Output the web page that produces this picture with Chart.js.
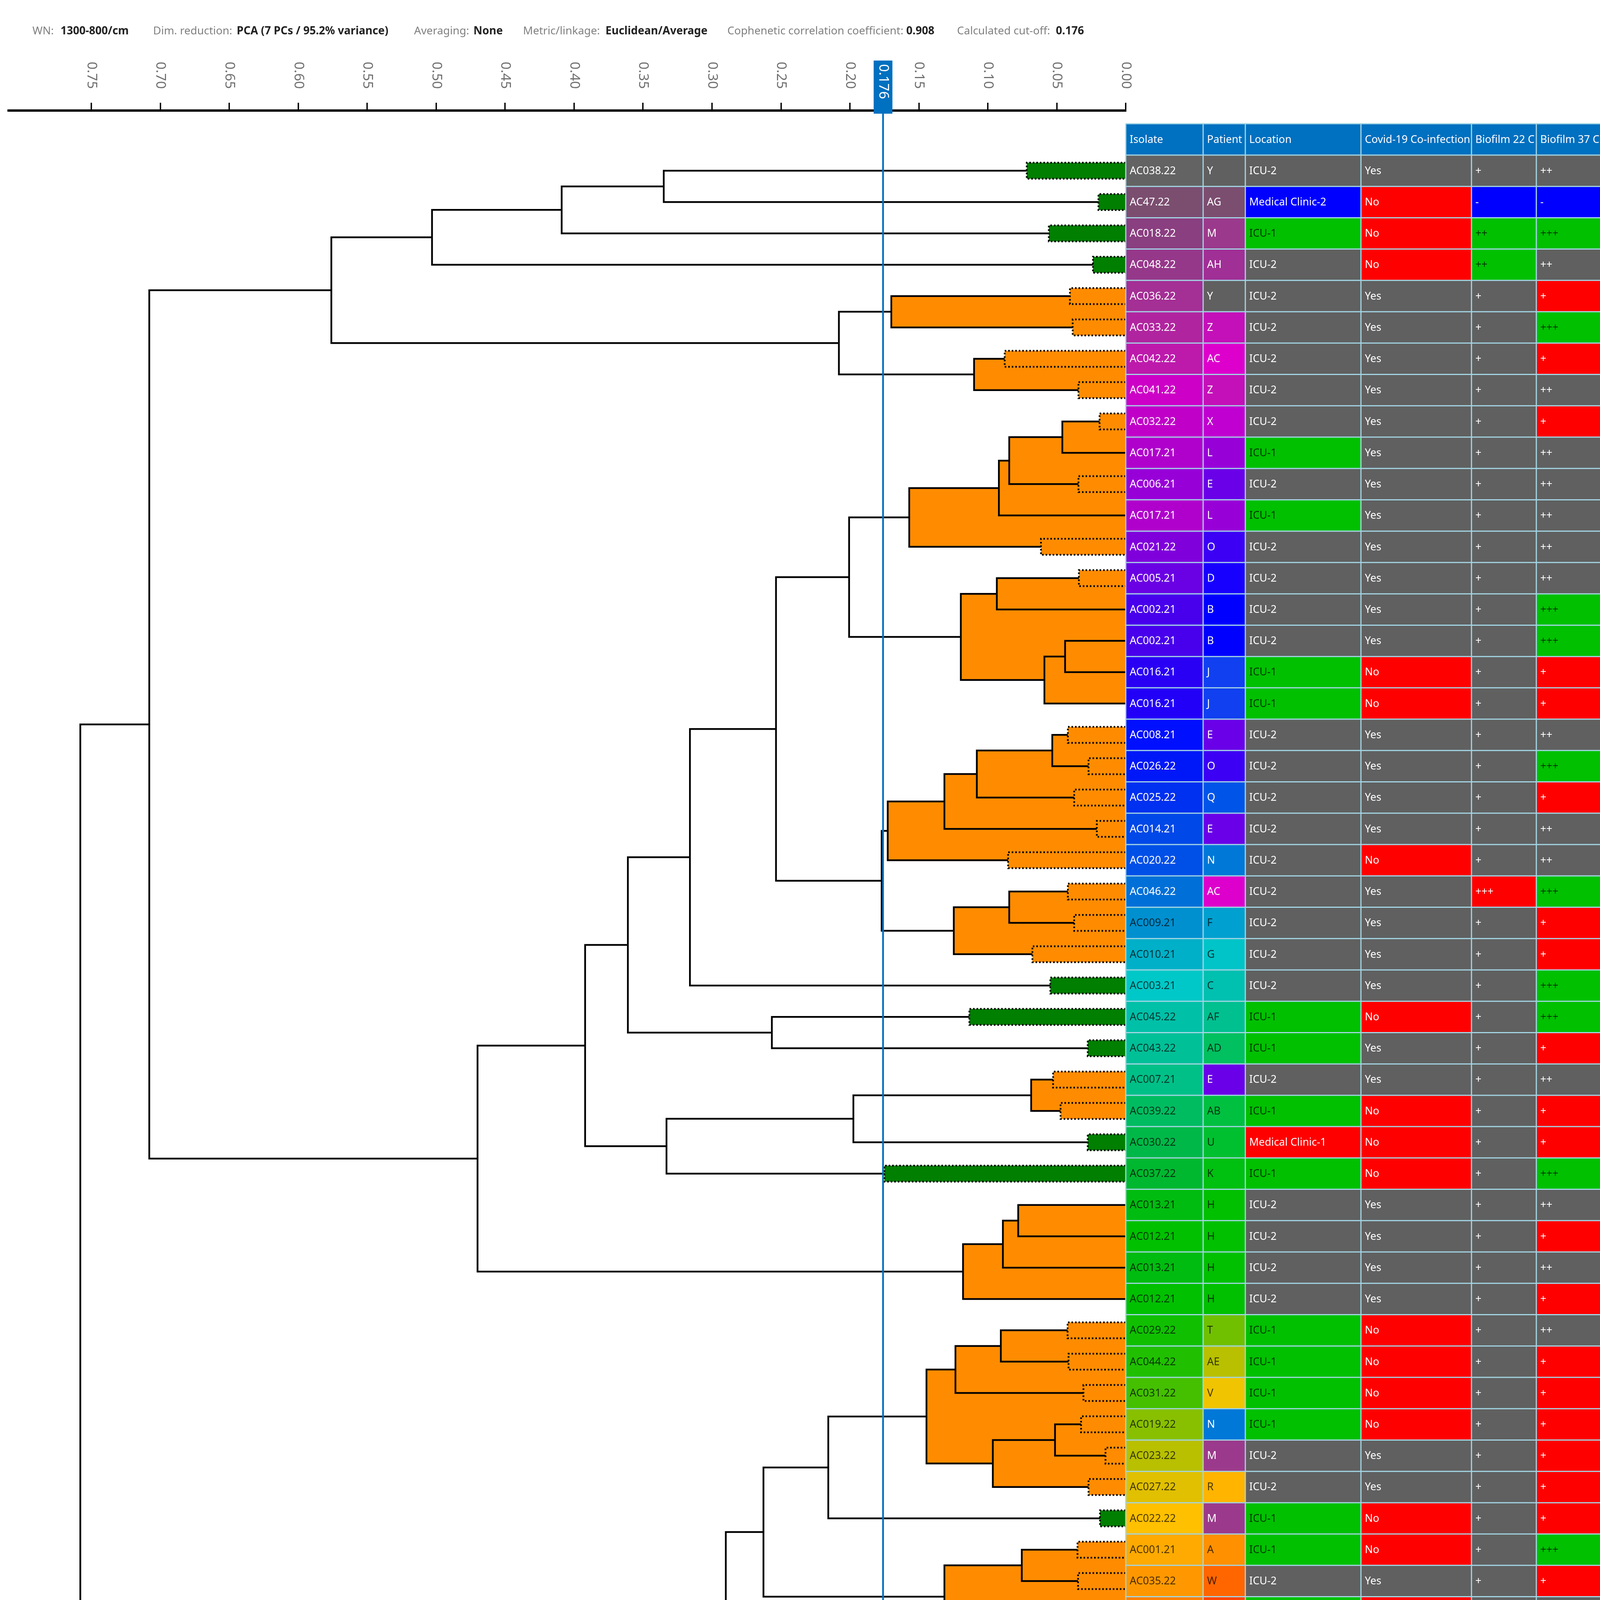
<!DOCTYPE html>
<html>
<head>
<meta charset="utf-8">
<script src="https://cdn.jsdelivr.net/npm/chart.js@4.4.1/dist/chart.umd.min.js"></script>
<style>
  html, body { margin: 0; padding: 0; background: #fff; }
  #wrap { width: 4128px; height: 4634px; }
</style>
</head>
<body>
<div id="wrap"><canvas id="chart" width="4128" height="4634"></canvas></div>
<script>
// ---- data ----
const isolates = ['AC038.22','AC47.22','AC018.22','AC048.22','AC036.22','AC033.22','AC042.22','AC041.22','AC032.22','AC017.21',
  'AC006.21','AC017.21','AC021.22','AC005.21','AC002.21','AC002.21','AC016.21','AC016.21','AC008.21','AC026.22',
  'AC025.22','AC014.21','AC020.22','AC046.22','AC009.21','AC010.21','AC003.21','AC045.22','AC043.22','AC007.21',
  'AC039.22','AC030.22','AC037.22','AC013.21','AC012.21','AC013.21','AC012.21','AC029.22','AC044.22','AC031.22',
  'AC019.22','AC023.22','AC027.22','AC022.22','AC001.21','AC035.22','AC034.22','AC028.22','AC040.22','AC004.21',
  'AC024.22','AC015.21'];
const patients = ['Y','AG','M','AH','Y','Z','AC','Z','X','L','E','L','O','D','B','B','J','J','E','O','Q','E','N','AC','F','G',
  'C','AF','AD','E','AB','U','K','H','H','H','H','T','AE','V','N','M','R','M','A','W','S','S','S','A','P','I'];
const locations = ['ICU-2','Medical Clinic-2','ICU-1','ICU-2','ICU-2','ICU-2','ICU-2','ICU-2','ICU-2','ICU-1',
  'ICU-2','ICU-1','ICU-2','ICU-2','ICU-2','ICU-2','ICU-1','ICU-1','ICU-2','ICU-2',
  'ICU-2','ICU-2','ICU-2','ICU-2','ICU-2','ICU-2','ICU-2','ICU-1','ICU-1','ICU-2',
  'ICU-1','Medical Clinic-1','ICU-1','ICU-2','ICU-2','ICU-2','ICU-2','ICU-1','ICU-1','ICU-1',
  'ICU-1','ICU-2','ICU-2','ICU-1','ICU-1','ICU-2','ICU-1','ICU-1','ICU-1','ICU-1','ICU-2','ICU-2'];
const covid = ['Yes','No','No','No','Yes','Yes','Yes','Yes','Yes','Yes','Yes','Yes','Yes','Yes','Yes','Yes','No','No',
  'Yes','Yes','Yes','Yes','No','Yes','Yes','Yes','Yes','No','Yes','Yes','No','No','No','Yes','Yes','Yes','Yes',
  'No','No','No','No','Yes','Yes','No','No','Yes','No','No','No','No','Yes','Yes'];
const biofilm22 = ['+','-','++','++','+','+','+','+','+','+','+','+','+','+','+','+','+','+','+','+','+','+','+','+++',
  '+','+','+','+','+','+','+','+','+','+','+','+','+','+','+','+','+','+','+','+','+','+','+','+','+','+','-','++'];
const biofilm37 = ['++','-','+++','++','+','+++','+','++','+','++','++','++','++','++','+++','+++','+','+','++','+++',
  '+','++','++','+++','+','+','+++','+++','+','++','+','+','+++','++','+','++','+','++','+','+','+','+','+','+',
  '+++','+','++','++','++','+++','+','+++'];

// spread of each isolate's replicates (length of the leaf box), 0 = none drawn
const leafSpread = [0.0718,0.0198,0.0558,0.0238,0.0405,0.0385,0.0878,0.0343,0.019,0,
  0.0343,0,0.0615,0.034,0,0,0,0,0.042,0.027,
  0.0374,0.021,0.0853,0.042,0.0374,0.0677,0.0547,0.1134,0.0276,0.0527,
  0.0473,0.0276,0.175,0,0,0,0,0.0422,0.0415,0.0307,
  0.0324,0.0147,0.027,0.0187,0.035,0.0346,0.0407,0.0238,0.0839,0.1485,
  0.035,0.0276];

// linkage: [id, left, right, height]; numbers are table rows (1-based), strings earlier links
const links = [
  ['n1', 1, 2, 0.335], ['n2', 'n1', 3, 0.409], ['n3', 'n2', 4, 0.503],
  ['n4', 5, 6, 0.170], ['n5', 7, 8, 0.110], ['n6', 'n4', 'n5', 0.208], ['n7', 'n3', 'n6', 0.576],
  ['n8', 9, 10, 0.046], ['n9', 'n8', 11, 0.0845], ['n10', 'n9', 12, 0.092], ['n11', 'n10', 13, 0.157],
  ['n12', 14, 15, 0.0935], ['n13', 16, 17, 0.044], ['n14', 'n13', 18, 0.059], ['n15', 'n12', 'n14', 0.1196],
  ['n16', 'n11', 'n15', 0.2006],
  ['n17', 19, 20, 0.0533], ['n18', 'n17', 21, 0.108], ['n19', 'n18', 22, 0.1315], ['n20', 'n19', 23, 0.1726],
  ['n21', 24, 25, 0.0845], ['n22', 'n21', 26, 0.1247], ['n23', 'n20', 'n22', 0.177],
  ['n24', 'n16', 'n23', 0.2536], ['n25', 'n24', 27, 0.316], ['n26', 28, 29, 0.2566], ['n27', 'n25', 'n26', 0.361],
  ['n28', 30, 31, 0.0686], ['n29', 'n28', 32, 0.1975], ['n30', 'n29', 33, 0.333], ['n31', 'n27', 'n30', 0.392],
  ['n32', 34, 35, 0.078], ['n33', 'n32', 36, 0.0891], ['n34', 'n33', 37, 0.118], ['n35', 'n31', 'n34', 0.470],
  ['n36', 'n7', 'n35', 0.708],
  ['n37', 38, 39, 0.0906], ['n38', 'n37', 40, 0.1235], ['n39', 41, 42, 0.0513], ['n40', 'n39', 43, 0.0964],
  ['n41', 'n38', 'n40', 0.1445], ['n42', 'n41', 44, 0.2157],
  ['n43', 45, 46, 0.0754], ['n44', 47, 48, 0.0677], ['n45', 'n43', 'n44', 0.1315],
  ['n46', 'n42', 'n45', 0.2627], ['n47', 'n46', 49, 0.290], ['n48', 'n47', 50, 0.462],
  ['n49', 51, 52, 0.0672], ['n50', 'n48', 'n49', 0.474], ['n51', 'n36', 'n50', 0.758]
];

const tickValues = [0, 0.05, 0.10, 0.15, 0.20, 0.25, 0.30, 0.35, 0.40, 0.45, 0.50, 0.55, 0.60, 0.65, 0.70, 0.75];
const cutOff = 0.176;
const columns = ['Isolate', 'Patient', 'Location', 'Covid-19 Co-infection', 'Biofilm 22 C', 'Biofilm 37 C'];
const headerLabels = ['WN:', 'Dim. reduction:', 'Averaging:', 'Metric/linkage:', 'Cophenetic correlation coefficient:', 'Calculated cut-off:'];
const headerValues = ['1300-800/cm', 'PCA (7 PCs / 95.2% variance)', 'None', 'Euclidean/Average', '0.908', '0.176'];

// ---- styles ----
const FONT = '"Noto Sans", sans-serif';
const GREY = '#606060', GREEN = '#00c000', RED = '#ff0000', BLUE = '#0000ff';
const ORANGE = '#ff8c00', DARKGREEN = '#007f00';
const headerLabelX = [83, 392, 1060, 1339, 1862, 2450];
const headerValueX = [155, 606, 1212, 1550, 2320, 2703];
const colWidths = [198, 108, 296, 283, 166, 165];

const isolateColors = ['#636363','#7b4e70','#8a3f80','#96388a','#a42f95','#b0259f','#bd1aac','#cc00c6','#c000c8','#b000cc',
  '#9800d8','#b000cc','#8000dc','#6a00e4','#4800ec','#4800ec','#2a00f4','#2200f8','#0010ff','#0018f8',
  '#0030f0','#0048e8','#0050e8','#0070d8','#0090d0','#00b0c8','#00c8c8','#00c0a8','#00c098','#00c088',
  '#00bc60','#00b848','#00b830','#00bc10','#00c000','#00bc10','#00c000','#10c000','#20c000','#44c000',
  '#88c000','#b8c000','#e0c000','#ffc000','#ffaa00','#ff9800','#ff8000','#ff6c00','#ff5000','#ff3800',
  '#ff1e00','#ff0000'];
const patientColors = {
  Y: '#606060', AG: '#7b4e70', M: '#9b3a8c', AH: '#a02f96', Z: '#c410b8', AC: '#dd00cc', X: '#c000d0',
  L: '#9800d8', E: '#6a00e8', O: '#3c00f4', D: '#1800ff', B: '#0000ff', J: '#1040f0', Q: '#0055e8',
  N: '#0078d8', F: '#00a0d0', G: '#00c4c8', C: '#00c0b0', AF: '#00c090', AD: '#00c060', AB: '#00c040',
  U: '#00c030', K: '#00c010', H: '#00c000', T: '#70c000', AE: '#b8c000', V: '#f0c400', R: '#ffb400',
  A: '#ff9000', W: '#ff6600', S: '#ff4400', P: '#ff2a00', I: '#ff0000'
};
const locationColors = { 'ICU-2': GREY, 'ICU-1': GREEN, 'Medical Clinic-2': BLUE, 'Medical Clinic-1': RED };
const covidColors = { Yes: GREY, No: RED };
const b22Colors = { '+': GREY, '-': BLUE, '++': GREEN, '+++': RED };
const b37Colors = { '+': RED, '-': BLUE, '++': GREY, '+++': GREEN };

function lum(hex) {
  const c = [1, 3, 5].map(i => parseInt(hex.substr(i, 2), 16) / 255)
    .map(v => v <= 0.04045 ? v / 12.92 : Math.pow((v + 0.055) / 1.055, 2.4));
  return 0.2126 * c[0] + 0.7152 * c[1] + 0.0722 * c[2];
}
const textOn = bg => lum(bg) > 0.225 ? 'rgba(0,0,0,0.72)' : '#ffffff';

// ---- dendrogram geometry from the linkage ----
const nodeY = {}, nodeH = {}, parentH = {};
const yOf = r => typeof r === 'number' ? r : nodeY[r];
const endOf = r => typeof r === 'number' ? leafSpread[r - 1] : nodeH[r];
links.forEach(([id, a, b, h]) => {
  nodeY[id] = (yOf(a) + yOf(b)) / 2;
  nodeH[id] = h;
  [a, b].forEach(c => { if (typeof c === 'number') parentH[c] = h; });
});

const datasets = [];
// orange fills under sub-cut-off links
links.forEach(([id, a, b, h]) => {
  if (h >= cutOff) return;
  datasets.push({
    data: [{ x: 0, y: yOf(a) }, { x: h, y: yOf(a) }, { x: h, y: yOf(b) }, { x: 0, y: yOf(b) }],
    showLine: true, fill: 'shape', backgroundColor: ORANGE, borderWidth: 0, pointRadius: 0, order: 3
  });
});
// leaf boxes (dotted outline)
leafSpread.forEach((s, i) => {
  if (!s) return;
  const r = i + 1, t = r - 0.255, bt = r + 0.255;
  datasets.push({
    data: [{ x: 0, y: t }, { x: s, y: t }, { x: s, y: bt }, { x: 0, y: bt }],
    showLine: true, fill: 'shape',
    backgroundColor: parentH[r] < cutOff ? ORANGE : DARKGREEN,
    borderColor: '#000', borderWidth: 4.5, borderDash: [4, 5], pointRadius: 0, order: 2
  });
});
// links
links.forEach(([id, a, b, h]) => {
  datasets.push({
    data: [{ x: endOf(a), y: yOf(a) }, { x: h, y: yOf(a) }, { x: h, y: yOf(b) }, { x: endOf(b), y: yOf(b) }],
    showLine: true, fill: false, borderColor: '#000', borderWidth: 4.5, pointRadius: 0, order: 1,
    borderJoinStyle: 'miter', borderCapStyle: 'butt'
  });
});

// ---- plugins ----
const topText = {
  id: 'topText',
  beforeDraw(chart) {
    const ctx = chart.ctx;
    ctx.save();
    ctx.fillStyle = '#fff';
    ctx.fillRect(0, 0, chart.width, chart.height);
    ctx.textBaseline = 'middle';
    headerLabels.forEach((l, i) => {
      ctx.font = '28px ' + FONT;
      ctx.fillStyle = '#808080';
      ctx.fillText(l, headerLabelX[i], 80);
      ctx.font = 'bold 28px ' + FONT;
      ctx.fillStyle = '#222';
      ctx.fillText(headerValues[i], headerValueX[i], 80);
    });
    ctx.restore();
  },
  afterDraw(chart) {
    const ctx = chart.ctx, xs = chart.scales.x;
    ctx.save();
    ctx.font = '35px ' + FONT;
    ctx.fillStyle = '#707070';
    ctx.textAlign = 'left';
    ctx.textBaseline = 'middle';
    xs.ticks.forEach(t => {
      ctx.save();
      ctx.translate(xs.getPixelForValue(t.value), 158);
      ctx.rotate(Math.PI / 2);
      ctx.fillText(t.value.toFixed(2), 0, 0);
      ctx.restore();
    });
    ctx.restore();
  }
};

const cutLine = {
  id: 'cutLine',
  afterDatasetsDraw(chart) {
    const ctx = chart.ctx, xs = chart.scales.x, x = xs.getPixelForValue(cutOff);
    ctx.save();
    ctx.strokeStyle = '#0070c0';
    ctx.lineWidth = 4.5;
    ctx.beginPath();
    ctx.moveTo(x, 290);
    ctx.lineTo(x, chart.chartArea.bottom);
    ctx.stroke();
    ctx.fillStyle = '#0070c0';
    ctx.fillRect(x - 24, 155, 48, 136);
    ctx.fillStyle = '#fff';
    ctx.font = '35px ' + FONT;
    ctx.textBaseline = 'middle';
    ctx.translate(x, 164);
    ctx.rotate(Math.PI / 2);
    ctx.fillText(cutOff.toFixed(3), 0, 0);
    ctx.restore();
  }
};

const table = {
  id: 'table',
  afterDraw(chart) {
    const ctx = chart.ctx, xs = chart.scales.x, ys = chart.scales.y;
    const x0 = xs.getPixelForValue(0);
    const edges = [x0];
    colWidths.forEach(w => edges.push(edges[edges.length - 1] + w));
    ctx.save();
    ctx.font = '27px ' + FONT;
    ctx.textBaseline = 'middle';
    const cell = (c, r, txt, bg, fg) => {
      const y0 = ys.getPixelForValue(r - 0.5), y1 = ys.getPixelForValue(r + 0.5);
      ctx.fillStyle = bg;
      ctx.fillRect(edges[c], y0, edges[c + 1] - edges[c], y1 - y0);
      ctx.save();
      ctx.beginPath();
      ctx.rect(edges[c], y0, edges[c + 1] - edges[c] - 3, y1 - y0);
      ctx.clip();
      ctx.fillStyle = fg;
      ctx.fillText(txt, edges[c] + 10, (y0 + y1) / 2 + 1);
      ctx.restore();
    };
    columns.forEach((t, c) => cell(c, 0, t, '#0070c0', '#ffffff'));
    isolates.forEach((iso, i) => {
      const r = i + 1;
      const bgs = [isolateColors[i], patientColors[patients[i]], locationColors[locations[i]],
        covidColors[covid[i]], b22Colors[biofilm22[i]], b37Colors[biofilm37[i]]];
      const txts = [iso, patients[i], locations[i], covid[i], biofilm22[i], biofilm37[i]];
      txts.forEach((t, c) => cell(c, r, t, bgs[c], textOn(bgs[c])));
    });
    // grid lines
    ctx.strokeStyle = '#a3d5e4';
    ctx.lineWidth = 3;
    const top = ys.getPixelForValue(-0.5), bottom = ys.getPixelForValue(isolates.length + 0.5);
    ctx.beginPath();
    for (let r = 0; r <= isolates.length + 1; r++) {
      const y = ys.getPixelForValue(r - 0.5);
      ctx.moveTo(edges[0], y);
      ctx.lineTo(edges[edges.length - 1], y);
    }
    edges.forEach(x => { ctx.moveTo(x, top); ctx.lineTo(x, bottom); });
    ctx.stroke();
    ctx.restore();
  }
};

new Chart(document.getElementById('chart'), {
  type: 'scatter',
  data: { datasets },
  options: {
    responsive: false,
    animation: false,
    devicePixelRatio: 1,
    layout: { padding: { left: 22, right: 1246, top: 263, bottom: 14 } },
    plugins: { legend: { display: false }, tooltip: { enabled: false } },
    elements: { line: { tension: 0 } },
    scales: {
      x: {
        type: 'linear', position: 'top', reverse: true, min: 0, max: 0.81,
        afterBuildTicks: s => { s.ticks = tickValues.map(v => ({ value: v })); },
        afterFit: s => { s.height = 20; },
        ticks: { display: false },
        grid: { drawOnChartArea: false, drawTicks: true, tickLength: 20, color: '#000', lineWidth: 3.5 },
        border: { display: true, color: '#000', width: 6 }
      },
      y: { type: 'linear', reverse: true, min: -0.92, max: 53.136, display: false }
    }
  },
  plugins: [topText, cutLine, table]
});
</script>
</body>
</html>
